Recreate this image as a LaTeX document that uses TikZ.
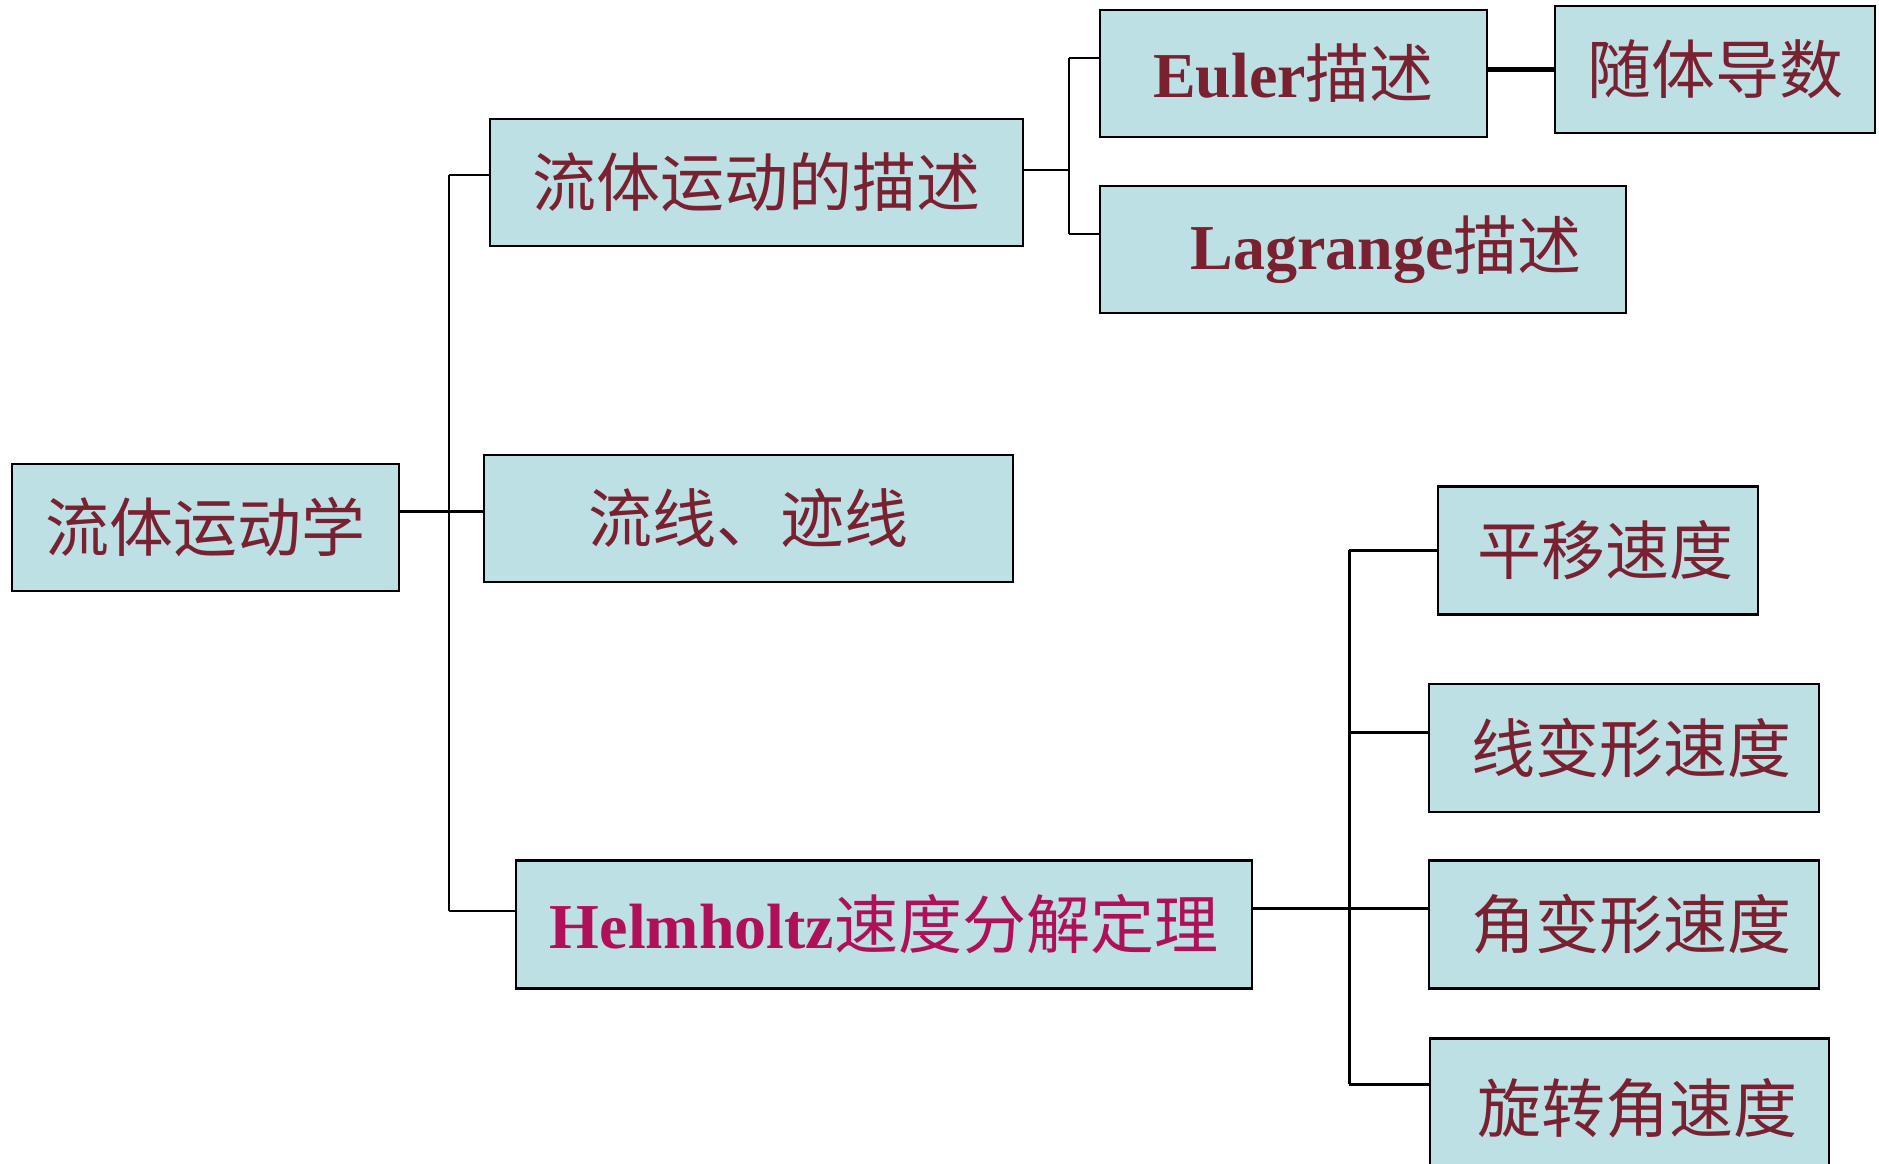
\documentclass[tikz,border=0pt]{standalone}
\usepackage{fontspec}
\setmainfont{Liberation Serif}
\newfontfamily\cjk{Noto Sans CJK SC}
\definecolor{boxfill}{HTML}{BCE0E3}
\definecolor{txtred}{HTML}{7A2131}
\definecolor{txtmag}{HTML}{B0105A}
\begin{document}
\begin{tikzpicture}[x=1pt,y=-1pt,
  box/.style={draw=black,line width=2.5pt,fill=boxfill,rectangle,inner sep=0pt,
    text=txtred,font=\fontsize{64}{70}\selectfont\cjk},
  conn/.style={line width=2.4pt,black},
  thickconn/.style={line width=5pt,black}]
\useasboundingbox[fill=white] (0,0) rectangle (1879,1163);
% boxes: node at centre with given size
\node[box,minimum width=387pt,minimum height=127pt] (A) at (205.5,527.5) {流体运动学};
\node[box,minimum width=533pt,minimum height=127pt] (B) at (756.5,182.5) {流体运动的描述};
\node[box,minimum width=529pt,minimum height=127pt] (C) at (748.5,518.5) {流线、迹线};
\node[box,minimum width=736pt,minimum height=128pt] (D) at (884,924.5) {\textcolor{txtmag}{{\fontspec{Liberation Serif}\bfseries Helmholtz}速度分解定理}};
\node[box,minimum width=387pt,minimum height=127pt] (E) at (1293.5,73.5) {{\fontspec{Liberation Serif}\bfseries Euler}描述};
\node[box,minimum width=320pt,minimum height=127pt] (F) at (1715,69.5) {随体导数};
\node[box,minimum width=526pt,minimum height=127pt] (G) at (1363,249.5) {\hspace*{46pt}{\fontspec{Liberation Serif}\bfseries Lagrange}描述};
\node[box,minimum width=320pt,minimum height=128pt] (H) at (1598,550.5) {\hspace*{14pt}平移速度};
\node[box,minimum width=390pt,minimum height=128pt] (I) at (1624,748) {\hspace*{14pt}线变形速度};
\node[box,minimum width=390pt,minimum height=128pt] (J) at (1624,924.5) {\hspace*{14pt}角变形速度};
\node[box,minimum width=399pt,minimum height=140pt,anchor=north west] (K) at (1428.5,1037) {\hspace*{16pt}旋转角速度};
% main trunk
\coordinate (tr1) at (449,175);
\coordinate (tr2) at (449,911);
\coordinate (jA) at (449,511);
\draw[conn] (tr1) -- (tr2);
\draw[conn] (tr1) -- (B.west |- tr1);
\draw[conn,line width=3pt] (A.east |- jA) -- (C.west |- jA);
\draw[conn] (tr2) -- (D.west |- tr2);
% B group
\coordinate (b1) at (1069,170);
\coordinate (bE) at (1069,58);
\coordinate (bG) at (1069,234);
\draw[conn] (B.east |- b1) -- (b1);
\draw[conn] (bE) -- (bG);
\draw[conn] (bE) -- (E.west |- bE);
\draw[conn] (bG) -- (G.west |- bG);
% E-F
\coordinate (ef) at (1520,69);
\draw[thickconn] (E.east |- ef) -- (F.west |- ef);
% D group
\coordinate (dH) at (1349,550);
\coordinate (dI) at (1349,732);
\coordinate (dJ) at (1349,908);
\coordinate (dK) at (1349,1084);
\draw[conn,line width=3pt] (dH) -- (dK);
\draw[conn,line width=3pt] (dH) -- (H.west |- dH);
\draw[conn,line width=3pt] (dI) -- (I.west |- dI);
\draw[conn,line width=3pt] (D.east |- dJ) -- (J.west |- dJ);
\draw[conn,line width=3pt] (dK) -- (K.west |- dK);
\end{tikzpicture}
\end{document}
